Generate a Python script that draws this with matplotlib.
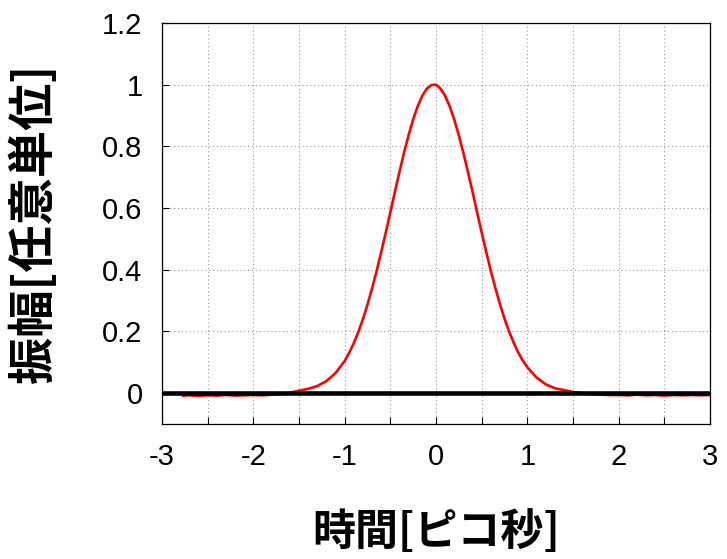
import matplotlib
matplotlib.use("Agg")
import matplotlib.pyplot as plt

plt.rcParams['font.family'] = ['Liberation Sans', 'DejaVu Sans']
plt.rcParams['axes.unicode_minus'] = False

CJK = ['Noto Sans CJK JP', 'DejaVu Sans']

# pulse shape
time_ps = [-2.77, -2.7, -2.6, -2.5, -2.4, -2.3, -2.2, -2.1, -2.0, -1.9,
           -1.8, -1.7, -1.6, -1.5, -1.4, -1.3, -1.2, -1.1,
           -1.00, -0.95, -0.90, -0.85, -0.80, -0.75, -0.70, -0.65, -0.60, -0.55,
           -0.50, -0.45, -0.40, -0.35, -0.30, -0.25, -0.20, -0.15, -0.10, -0.05,
           0.00, 0.05, 0.10, 0.15, 0.20, 0.25, 0.30, 0.35, 0.40, 0.45,
           0.50, 0.55, 0.60, 0.65, 0.70, 0.75, 0.80, 0.85, 0.90, 0.95, 1.00,
           1.1, 1.2, 1.3, 1.4, 1.5, 1.6, 1.7, 1.8, 1.9, 2.0,
           2.1, 2.2, 2.3, 2.4, 2.5, 2.6, 2.7, 2.8, 2.9, 3.0]
amplitude = [-0.008, -0.007, -0.009, -0.007, -0.008, -0.006, -0.008, -0.007, -0.006, -0.007,
             -0.005, -0.003, 0.001, 0.008, 0.014, 0.023, 0.039, 0.065,
             0.104, 0.131, 0.162, 0.198, 0.240, 0.287, 0.339, 0.396, 0.457, 0.520,
             0.586, 0.652, 0.717, 0.779, 0.836, 0.887, 0.930, 0.964, 0.987, 0.999,
             1.000, 0.987, 0.964, 0.930, 0.887, 0.836, 0.779, 0.717, 0.653, 0.587,
             0.521, 0.458, 0.397, 0.341, 0.289, 0.242, 0.200, 0.164, 0.132, 0.106, 0.084,
             0.051, 0.029, 0.016, 0.010, 0.004, 0.000, -0.003, -0.005, -0.006, -0.006,
             -0.007, -0.005, -0.007, -0.006, -0.008, -0.006, -0.007, -0.006, -0.007, -0.006]

x_ticks = [-3, -2, -1, 0, 1, 2, 3]
x_minor = [-2.5, -1.5, -0.5, 0.5, 1.5, 2.5]
y_ticks = [0, 0.2, 0.4, 0.6, 0.8, 1.0, 1.2]
x_labels = ['-3', '-2', '-1', '0', '1', '2', '3']
y_labels = ['0', '0.2', '0.4', '0.6', '0.8', '1', '1.2']

fig = plt.figure(figsize=(7.27, 5.59), dpi=100)
ax = fig.add_axes([0.2228, 0.2415, 0.7538, 0.7174])

ax.plot(time_ps, amplitude, color='#ff0000', lw=1.9, zorder=3)
ax.axhline(0, color='black', lw=3.3, zorder=4)

ax.set_xlim(-3, 3)
ax.set_ylim(-0.1, 1.2)
ax.set_xticks(x_ticks)
ax.set_xticks(x_minor, minor=True)
ax.set_xticklabels(x_labels)
ax.set_yticks(y_ticks)
ax.set_yticklabels(y_labels)

ax.tick_params(which='both', direction='in', length=5, width=0.8,
               labelsize=21, pad=14)
ax.tick_params(axis='y', pad=14)
ax.grid(True, which='both', color='#999999', lw=0.8, linestyle=(0, (1, 2.5)))
ax.set_axisbelow(True)
for s in ax.spines.values():
    s.set_linewidth(0.9)

fig.text(0.6, 0.048, '時間[ピコ秒]', family=CJK, fontweight='bold',
         fontsize=31, ha='center', va='center')
fig.text(0.047, 0.6, '振幅[任意単位]', family=CJK, fontweight='bold',
         fontsize=34, ha='center', va='center', rotation=90)

fig.savefig('out.png', dpi=100)
